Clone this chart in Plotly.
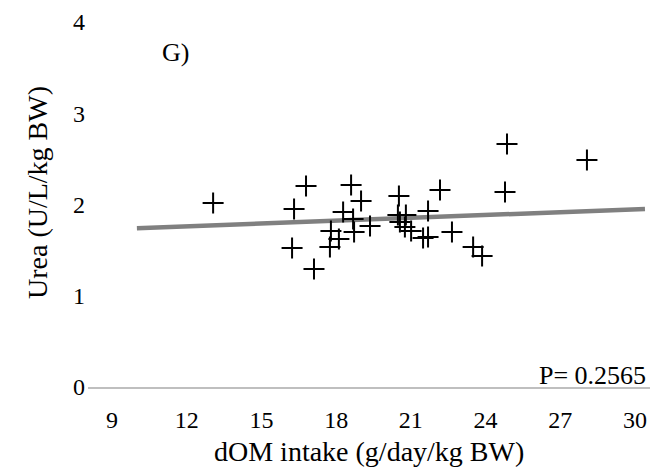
import plotly.graph_objects as go

# Data
dom_intake = [13.06, 16.79, 16.31, 16.23, 17.11, 18.60, 19.00, 18.28, 18.68, 19.36,
              18.72, 17.79, 18.11, 17.75, 20.52, 20.48, 20.80, 20.56, 20.76, 21.01,
              21.69, 22.17, 21.49, 21.69, 22.65, 23.50, 23.86, 24.78, 24.86, 28.07]
urea = [2.016, 2.203, 1.951, 1.523, 1.293, 2.214, 2.038, 1.918, 1.841, 1.764,
        1.699, 1.710, 1.622, 1.534, 2.093, 1.885, 1.885, 1.808, 1.753, 1.710,
        1.929, 2.159, 1.633, 1.644, 1.699, 1.534, 1.436, 2.137, 2.663, 2.488]

trend_x = [10.0, 30.4]
trend_y = [1.74, 1.95]

x_ticks = [9, 12, 15, 18, 21, 24, 27, 30]
y_ticks = [0, 1, 2, 3, 4]

FONT = "'Liberation Serif', 'Times New Roman', serif"

W, H = 662, 471
ML, MR, MT, MB = 88, 12, 10, 84
PW, PH = W - ML - MR, H - MT - MB


def px(xp):
    return (xp - ML) / PW


def py(yp):
    return 1 - (yp - MT) / PH


fig = go.Figure()
fig.add_trace(go.Scatter(
    x=trend_x, y=trend_y, mode="lines",
    line=dict(color="#808080", width=4.5),
    showlegend=False, hoverinfo="skip",
))
fig.add_trace(go.Scatter(
    x=dom_intake, y=urea, mode="markers",
    marker=dict(symbol="cross-thin", size=15, line=dict(width=2, color="black"), color="black"),
    showlegend=False,
))

fig.update_layout(
    width=W, height=H,
    margin=dict(l=ML, r=MR, t=MT, b=MB),
    paper_bgcolor="white", plot_bgcolor="white",
    font=dict(family=FONT, color="black", size=24),
    xaxis=dict(
        range=[8.036, 30.602], tickvals=x_ticks, ticktext=[str(v) for v in x_ticks],
        showgrid=False, zeroline=False, showline=True, linecolor="#bfbfbf", linewidth=1.5,
        ticks="", ticklabelstandoff=10, tickfont=dict(size=24, family=FONT, color="black"),
        automargin=False,
    ),
    yaxis=dict(
        range=[0, 4.13], tickvals=y_ticks, ticktext=[str(v) for v in y_ticks],
        showgrid=False, zeroline=False, showline=False,
        ticks="", ticklabelstandoff=2, tickfont=dict(size=24, family=FONT, color="black"),
        automargin=False,
    ),
)

fig.add_annotation(text="dOM intake (g/day/kg BW)", xref="paper", yref="paper",
                   x=px(369), y=py(452), xanchor="center", yanchor="middle",
                   showarrow=False, font=dict(size=28, family=FONT))
fig.add_annotation(text="Urea (U/L/kg BW)", xref="paper", yref="paper",
                   x=px(37), y=py(193), xanchor="center", yanchor="middle", textangle=-90,
                   showarrow=False, font=dict(size=28, family=FONT))
fig.add_annotation(text="G)", xref="paper", yref="paper",
                   x=px(175), y=py(53), xanchor="center", yanchor="middle",
                   showarrow=False, font=dict(size=26, family=FONT))
fig.add_annotation(text="P= 0.2565", xref="paper", yref="paper",
                   x=px(648), y=py(375), xanchor="right", yanchor="middle",
                   showarrow=False, font=dict(size=26, family=FONT))

fig.write_html(
    "out.html",
    config={"displayModeBar": False},
    post_script="document.body.style.margin='0';document.body.style.overflow='hidden';",
)
